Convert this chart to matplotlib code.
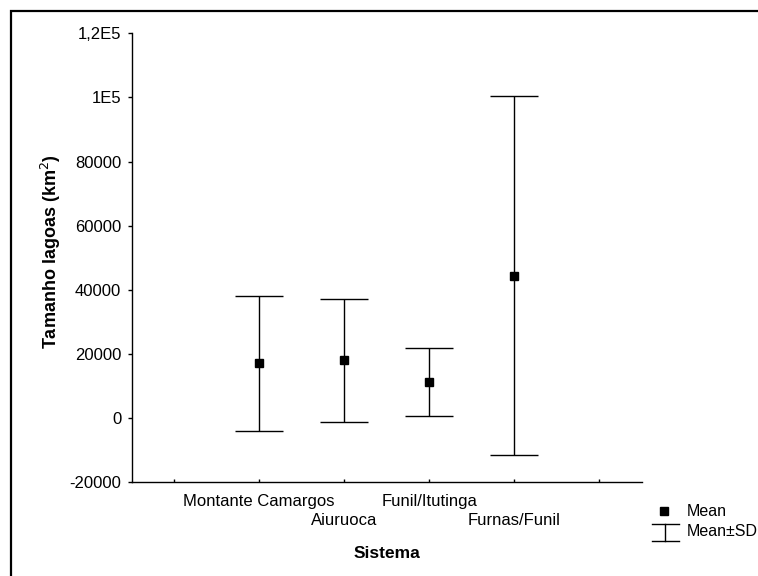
import numpy as np
import matplotlib
matplotlib.use('Agg')
import matplotlib.pyplot as plt
from matplotlib.lines import Line2D
from matplotlib.patches import Rectangle

# dados (media e desvio padrao por sistema)
sistemas = ['Montante Camargos', 'Aiuruoca', 'Funil/Itutinga', 'Furnas/Funil']
medias = [17100, 18100, 11350, 44400]
desvios = [20950, 19150, 10620, 56000]
yticks = [-20000, 0, 20000, 40000, 60000, 80000, 100000, 120000]
ytick_labels = ['-20000', '0', '20000', '40000', '60000', '80000', '1E5', '1,2E5']

plt.rcParams['font.family'] = ['Liberation Sans', 'DejaVu Sans']

W, H = 758, 576
fig = plt.figure(figsize=(W / 100, H / 100), dpi=100)
ax = fig.add_axes([131.7 / W, 1 - 482.3 / H, (641.7 - 131.7) / W, (482.3 - 33.3) / H])

x = np.arange(1, len(sistemas) + 1)
ax.errorbar(x, medias, yerr=desvios, fmt='s', color='black', ecolor='black',
            elinewidth=1.0, capsize=17.5, capthick=1.0, markersize=5.5)

ax.set_xlim(-0.5, 5.5)
ax.set_ylim(-20000, 120000)
ax.set_yticks(yticks)
ax.set_yticklabels(ytick_labels)
ax.set_xticks(np.arange(0, len(sistemas) + 2))
ax.set_xticklabels([])

# rotulos das categorias em duas linhas alternadas
for i, (xi, nome) in enumerate(zip(x, sistemas)):
    off = -27.6 if i % 2 else -13.5
    ax.annotate(nome, xy=(xi, 0), xycoords=('data', 'axes fraction'),
                xytext=(0, off), textcoords='offset points',
                ha='center', va='center', fontsize=12)

ax.spines['top'].set_visible(False)
ax.spines['right'].set_visible(False)
for s in ['left', 'bottom']:
    ax.spines[s].set_linewidth(1.0)
ax.tick_params(axis='y', direction='out', length=3, width=1.0, pad=4.5, labelsize=12)
ax.tick_params(axis='x', direction='in', length=2, width=1.0)

ax.set_xlabel('Sistema', fontsize=12.5, fontweight='bold', va='center')
ax.xaxis.set_label_coords(0.5, -(553 - 482.3) / 449)
fig.text(50.7 / W, 1 - 251.5 / H, 'Tamanho lagoas (km$^2$)', rotation=90,
         ha='center', va='center', fontsize=13, fontweight='bold')

# legenda desenhada a mao
def fx(px):
    return px / W

def fy(py):
    return 1 - py / H

fig.add_artist(Line2D([fx(664)], [fy(511)], marker='s', color='black',
                      markersize=5.5, linestyle='none'))
fig.text(fx(686.7), fy(511), 'Mean', fontsize=11.5, va='center', ha='left')
fig.add_artist(Line2D([fx(651.7), fx(679)], [fy(524), fy(524)], color='black', lw=1.0))
fig.add_artist(Line2D([fx(665), fx(665)], [fy(524), fy(540.7)], color='black', lw=1.0))
fig.add_artist(Line2D([fx(651.7), fx(679)], [fy(540.7), fy(540.7)], color='black', lw=1.0))
fig.text(fx(686.7), fy(532), 'Mean±SD', fontsize=11.5, va='center', ha='left')

# moldura externa
fig.add_artist(Rectangle((fx(11), -0.5), 2, fy(11) + 0.5, transform=fig.transFigure,
                         fill=False, edgecolor='black', lw=1.6, clip_on=False))

fig.savefig('out.png', dpi=100)
